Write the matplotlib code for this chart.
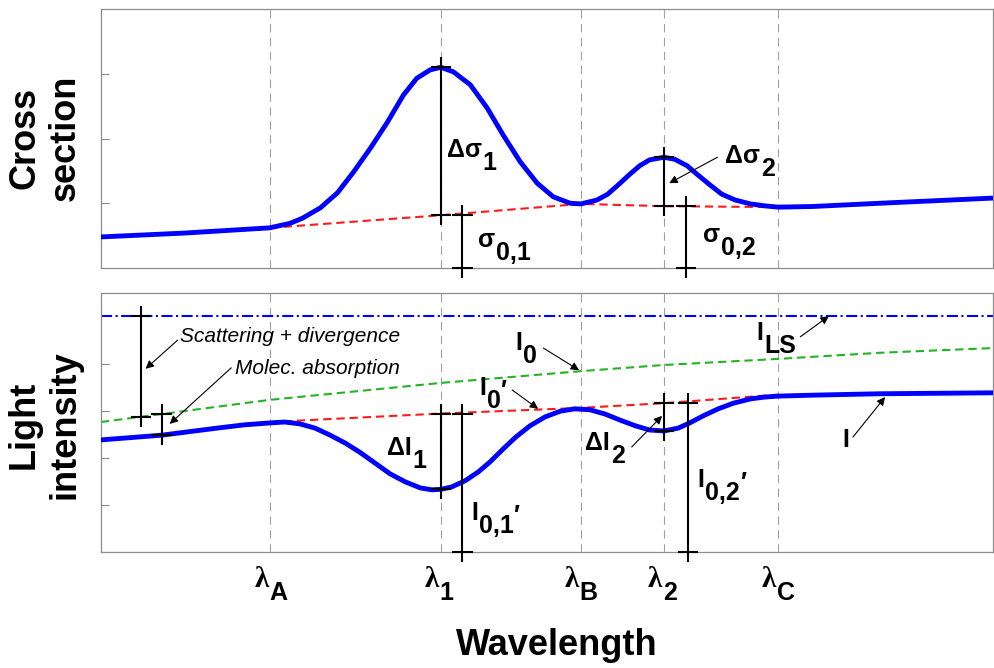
import numpy as np
import matplotlib.pyplot as plt

plt.rcParams['font.family'] = ['Liberation Sans', 'DejaVu Sans']
plt.rcParams['lines.scale_dashes'] = False

# reference wavelengths (arbitrary units, 0..100 across the axis)
lam_names = ['A', '1', 'B', '2', 'C']
lam_pos = [19.0, 38.1, 53.8, 63.1, 75.9]

# absorption cross section
wl_sigma = [0.0, 9.4, 18.9, 21.2, 22.6, 24.6, 26.5, 28.3, 30.2, 32.1, 33.9, 35.4,
            36.9, 38.1, 39.5, 41.4, 43.3, 45.1, 47.0, 48.9, 50.7, 52.6, 53.8,
            55.6, 56.8, 58.2, 59.3, 60.4, 61.5, 63.1, 64.3, 65.7, 66.8, 68.3,
            69.6, 71.1, 72.8, 74.4, 75.9, 79.8, 87.3, 100.0]
sigma = [0.48, 0.54, 0.62, 0.69, 0.77, 0.93, 1.16, 1.48, 1.85, 2.25, 2.67, 2.93,
         3.06, 3.10, 3.03, 2.83, 2.47, 2.05, 1.64, 1.31, 1.10, 1.00, 0.99,
         1.05, 1.14, 1.31, 1.45, 1.58, 1.67, 1.71, 1.68, 1.58, 1.45, 1.28,
         1.14, 1.05, 0.99, 0.96, 0.94, 0.95, 1.00, 1.08]
sigma0 = [0.62, 0.815, 0.99, 0.955, 0.94]

# light intensities
wl_I = [0.0, 6.8, 13.0, 16.1, 18.9, 20.6, 22.3, 24.0, 25.7, 27.4, 29.0, 30.7,
        32.4, 34.1, 35.8, 37.1, 38.1, 39.3, 40.8, 42.3, 43.6, 45.1, 46.5, 48.1,
        49.8, 51.5, 53.1, 54.8, 56.5, 58.2, 59.9, 61.5, 63.1, 64.7, 66.0, 67.5,
        69.2, 70.9, 72.8, 74.4, 75.9, 79.8, 87.3, 100.0]
I = [2.38, 2.48, 2.63, 2.70, 2.74, 2.76, 2.72, 2.63, 2.48, 2.31, 2.12, 1.89,
     1.66, 1.49, 1.36, 1.32, 1.33, 1.38, 1.51, 1.70, 1.91, 2.19, 2.44, 2.68,
     2.87, 2.99, 3.04, 3.02, 2.93, 2.80, 2.68, 2.59, 2.57, 2.63, 2.74, 2.89,
     3.04, 3.16, 3.25, 3.29, 3.31, 3.33, 3.36, 3.38]
wl_I0 = [0.0, 18.9, 38.1, 53.8, 63.0, 75.9, 87.3, 100.0]
I0 = [2.76, 3.23, 3.59, 3.84, 3.97, 4.10, 4.23, 4.33]
I0p = [2.76, 2.94, 3.06, 3.16, 3.34]
I_LS = 5.01

BLUE = '#0000ff'
RED = '#ff1a1a'
GREEN = '#22b422'
GRAY = '#8c8c8c'

fig = plt.figure(figsize=(9.94, 6.68), dpi=100)
ax1 = fig.add_axes([0.1016, 0.5988, 0.8974, 0.3877])
ax2 = fig.add_axes([0.1016, 0.1737, 0.8974, 0.3877])
ax1.set_ylim(0, 4)
ax2.set_ylim(0, 5.5)

for ax, ticks in ((ax1, [1, 2, 3]), (ax2, [1, 2, 3, 4])):
    ax.set_xlim(0, 100)
    ax.set_xticks([])
    ax.set_yticks(ticks)
    ax.tick_params(axis='y', direction='in', length=6, color=GRAY, labelleft=False)
    for sp in ax.spines.values():
        sp.set_color(GRAY)
        sp.set_linewidth(0.9)
    for xl in lam_pos:
        ax.axvline(xl, color='#a0a0a0', lw=0.8, dashes=(6, 4), zorder=1)


def bracket(ax, x, lo, hi, half=1.15):
    ext = 0.0386 * (ax.get_ylim()[1] - ax.get_ylim()[0])
    kw = dict(color='k', lw=1.5, zorder=5, clip_on=False, solid_capstyle='butt')
    ax.plot([x, x], [lo - ext, hi + ext], **kw)
    ax.plot([x - half, x + half], [lo, lo], **kw)
    ax.plot([x - half, x + half], [hi, hi], **kw)


def sublabel(ax, x, y, base, sub='', prime=False, size=18, sub_size=None,
             trans=None, ha='left', **base_kw):
    trans = trans or ax.transData
    sub_size = sub_size or size
    kw = dict(fontsize=size, fontweight='bold')
    kw.update(base_kw)
    t = ax.text(x, y, base, transform=trans, va='baseline', ha=ha, **kw)
    if sub:
        s = ax.annotate(sub, xy=(1, y), xycoords=(t, trans), xytext=(0.5, -9.5),
                        textcoords='offset points', fontsize=sub_size,
                        fontweight='bold', va='baseline', ha='left',
                        annotation_clip=False)
        if prime:
            ax.annotate('\u2032', xy=(1, 1), xycoords=(s, t), xytext=(0.5, -2),
                        textcoords='offset points', fontsize=size,
                        fontweight='bold', va='top', ha='left',
                        annotation_clip=False)
    return t


def arrow(ax, tail, head):
    ax.annotate('', xy=head, xytext=tail,
                arrowprops=dict(arrowstyle='-|>', color='k', lw=0.8,
                                mutation_scale=12, shrinkA=0, shrinkB=0),
                zorder=6)


# --- cross section panel ---
ax1.plot(lam_pos, sigma0, color=RED, lw=1.5, dashes=(6, 3.5), zorder=2)
ax1.plot(wl_sigma, sigma, color=BLUE, lw=3.5, zorder=3,
         solid_joinstyle='round', solid_capstyle='butt')

lam1, lam2 = lam_pos[1], lam_pos[3]
s1 = np.interp(lam1, wl_sigma, sigma)
s2 = np.interp(lam2, wl_sigma, sigma)
bracket(ax1, lam1, sigma0[1], s1)
bracket(ax1, 40.5, 0, sigma0[1])
bracket(ax1, lam2, sigma0[3], s2)
bracket(ax1, 65.6, 0, sigma0[3])

sublabel(ax1, 38.8, 1.71, '\u0394\u03c3', '1')
sublabel(ax1, 42.3, 0.32, '\u03c3', '0,1')
sublabel(ax1, 70.0, 1.62, '\u0394\u03c3', '2')
sublabel(ax1, 67.5, 0.40, '\u03c3', '0,2')
arrow(ax1, (69.1, 1.71), (63.7, 1.31))

# --- light intensity panel ---
ax2.axhline(I_LS, color=BLUE, lw=1.5, dashes=(8, 2.5, 1.5, 2.5), zorder=2)
ax2.plot(wl_I0, I0, color=GREEN, lw=1.5, dashes=(6, 3.5), zorder=2)
ax2.plot(lam_pos, I0p, color=RED, lw=1.5, dashes=(6, 3.5), zorder=2)
ax2.plot(wl_I, I, color=BLUE, lw=3.5, zorder=3,
         solid_joinstyle='round', solid_capstyle='butt')

i1 = np.interp(lam1, wl_I, I)
i2 = np.interp(lam2, wl_I, I)
bracket(ax2, lam1, i1, I0p[1])
bracket(ax2, 40.5, 0, I0p[1])
bracket(ax2, lam2, i2, I0p[3])
bracket(ax2, 65.8, 0, I0p[3])

x_sc, x_mol = 4.5, 6.8
bracket(ax2, x_sc, np.interp(x_sc, wl_I0, I0), I_LS)
bracket(ax2, x_mol, np.interp(x_mol, wl_I, I), np.interp(x_mol, wl_I0, I0))

ax2.text(8.9, 4.46, 'Scattering + divergence', fontsize=15, style='italic',
         va='baseline')
ax2.text(15.0, 3.78, 'Molec. absorption', fontsize=15, style='italic',
         va='baseline')
arrow(ax2, (8.6, 4.50), (5.0, 3.89))
arrow(ax2, (14.6, 3.91), (7.7, 2.72))

sublabel(ax2, 46.5, 4.29, 'I', '0')
sublabel(ax2, 42.4, 3.33, 'I', '0', prime=True)
sublabel(ax2, 32.1, 2.06, '\u0394I', '1')
sublabel(ax2, 41.5, 0.68, 'I', '0,1', prime=True)
sublabel(ax2, 54.3, 2.17, '\u0394I', '2')
sublabel(ax2, 66.9, 1.38, 'I', '0,2', prime=True)
sublabel(ax2, 73.5, 4.50, 'I', 'LS')
sublabel(ax2, 83.1, 2.23, 'I')

arrow(ax2, (49.6, 4.33), (53.6, 3.86))
arrow(ax2, (46.1, 3.44), (49.0, 3.04))
arrow(ax2, (59.5, 2.23), (62.9, 2.89))
arrow(ax2, (78.4, 4.57), (81.6, 5.01))
arrow(ax2, (84.3, 2.44), (87.9, 3.29))

# wavelength markers under the lower panel
for name, xl in zip(lam_names, lam_pos):
    sublabel(ax2, xl - 0.2, -0.135, '\u03bb', name, size=21, sub_size=18,
             trans=ax2.get_xaxis_transform(), ha='right',
             family=['Liberation Serif', 'DejaVu Serif'], fontweight='bold')

fig.text(0.045, 0.793, 'Cross\nsection', rotation=90, fontsize=26,
         fontweight='bold', ha='center', va='center', multialignment='center')
fig.text(0.045, 0.364, 'Light\nintensity', rotation=90, fontsize=26,
         fontweight='bold', ha='center', va='center', multialignment='center')
fig.text(0.56, 0.034, 'Wavelength', fontsize=26, fontweight='bold',
         ha='center', va='center')

fig.savefig('out.png', dpi=100)
